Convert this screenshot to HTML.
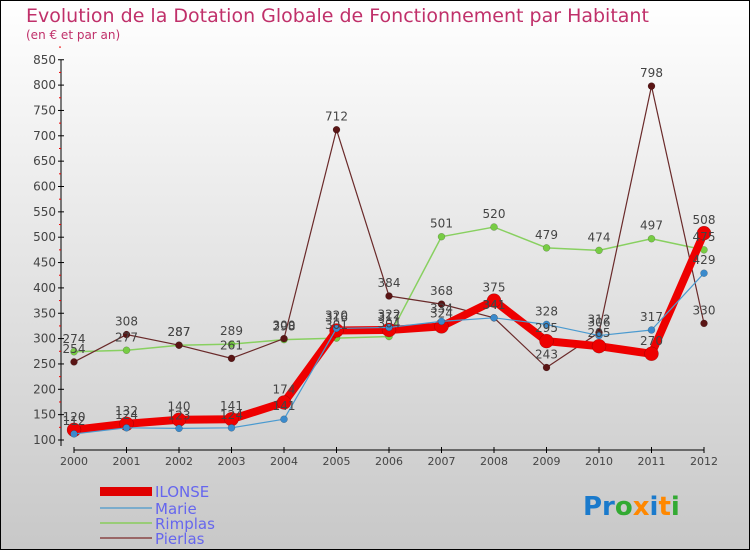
<!DOCTYPE html>
<html><head><meta charset="utf-8"><style>
html,body{margin:0;padding:0;}
body{width:750px;height:550px;overflow:hidden;font-family:"Liberation Sans",sans-serif;}
svg text{font-family:"DejaVu Sans","Liberation Sans",sans-serif;}
</style></head><body>
<svg id="chart" width="750" height="550" viewBox="0 0 750 550" xmlns="http://www.w3.org/2000/svg">
<defs><linearGradient id="bg" x1="0" y1="0" x2="0" y2="1"><stop offset="0" stop-color="#ffffff"/><stop offset="1" stop-color="#c8c8c8"/></linearGradient></defs>
<rect x="0.5" y="0.5" width="749" height="549" fill="url(#bg)" stroke="#000"/>
<text x="26" y="22" font-size="19" fill="#c0306a">Evolution de la Dotation Globale de Fonctionnement par Habitant</text>
<text x="26" y="39" font-size="12" fill="#c0306a">(en € et par an)</text>
<g id="axes"></g><g id="series"></g><g id="labels"></g>
<g>
<rect x="100" y="487" width="52" height="9" fill="#e00000"/>
<text x="155" y="497" font-size="15" fill="#6666ee">ILONSE</text>
<line x1="100" y1="508" x2="152" y2="508" stroke="#7aaccc" stroke-width="2"/>
<text x="155" y="514" font-size="15" fill="#6666ee">Marie</text>
<line x1="100" y1="523" x2="152" y2="523" stroke="#99cc77" stroke-width="2"/>
<text x="155" y="529" font-size="15" fill="#6666ee">Rimplas</text>
<line x1="100" y1="538" x2="152" y2="538" stroke="#996666" stroke-width="2"/>
<text x="155" y="544" font-size="15" fill="#6666ee">Pierlas</text>
</g>
<text x="583" y="515" font-size="26" font-weight="bold"><tspan fill="#1a7acc">Pr</tspan><tspan fill="#33aa33">o</tspan><tspan fill="#ff8800">x</tspan><tspan fill="#1a7acc">i</tspan><tspan fill="#ff8800">t</tspan><tspan fill="#33aa33">i</tspan></text>
</svg>
<script>
const years=["2000","2001","2002","2003","2004","2005","2006","2007","2008","2009","2010","2011","2012"];
const yTicks=[100,150,200,250,300,350,400,450,500,550,600,650,700,750,800,850];
const ilonse=[120,132,140,141,174,316,317,324,375,295,285,270,508];
const marie=[112,124,123,124,141,320,322,334,341,328,306,317,429];
const rimplas=[274,277,287,289,298,301,304,501,520,479,474,497,475];
const pierlas=[254,308,287,261,300,712,384,368,341,243,312,798,330];
const NS="http://www.w3.org/2000/svg";
function X(i){return 74+i*52.5;}
function Y(v){return 440-(v-100)*0.507;}
function mk(tag,attrs,parent){const e=document.createElementNS(NS,tag);for(const k in attrs)e.setAttribute(k,attrs[k]);parent.appendChild(e);return e;}
const axes=document.getElementById('axes'),ser=document.getElementById('series'),lab=document.getElementById('labels');
let a=mk('line',{x1:61,y1:Y(850),x2:61,y2:446,stroke:'#000'},axes);


yTicks.forEach(v=>{
 const t=mk('line',{x1:58,y1:Y(v),x2:64,y2:Y(v),stroke:'#000'},axes);
 
 
 const m=mk('line',{x1:59,y1:Y(v+25),x2:61,y2:Y(v+25),stroke:'#e00'},axes);
 
 
 const tx=mk('text',{x:56,y:Y(v)+4,'font-size':12,fill:'#444','text-anchor':'end'},axes);tx.textContent=v;
 
 
});
let xa=mk('line',{x1:X(0),y1:450,x2:X(12),y2:450,stroke:'#000'},axes);


years.forEach((y,i)=>{
 const t=mk('line',{x1:X(i),y1:447,x2:X(i),y2:453,stroke:'#000'},axes);
 
 
 const tx=mk('text',{x:X(i),y:465,'font-size':11,fill:'#444','text-anchor':'middle'},axes);tx.textContent=y;
 
 
});
function draw(name,data,color,w,r,mcol){
 const pts=data.map((v,i)=>X(i)+','+Y(v)).join(' ');
 const pl=mk('polyline',{points:pts,fill:'none',stroke:color,'stroke-width':w,'stroke-linejoin':'round'},ser);
 
 
 data.forEach((v,i)=>{
  const c=mk('circle',{cx:X(i),cy:Y(v),r:r,fill:mcol,stroke:'rgba(0,0,0,0.3)','stroke-width':0.5},ser);
  
  
  const tx=mk('text',{x:X(i),y:Y(v)-9,'font-size':12,fill:'#444','text-anchor':'middle'},lab);tx.textContent=v;
  
  
 });
}
draw('rimplas',rimplas,'#88d060',1.5,3.5,'#77cc44');
draw('pierlas',pierlas,'#6a2a2a',1.2,3.5,'#5a1515');
draw('ilonse',ilonse,'#ee0000',8,7,'#ee0000');
draw('marie',marie,'#4a9ad0',1.2,3.5,'#3a8acc');
</script>
</body></html>
